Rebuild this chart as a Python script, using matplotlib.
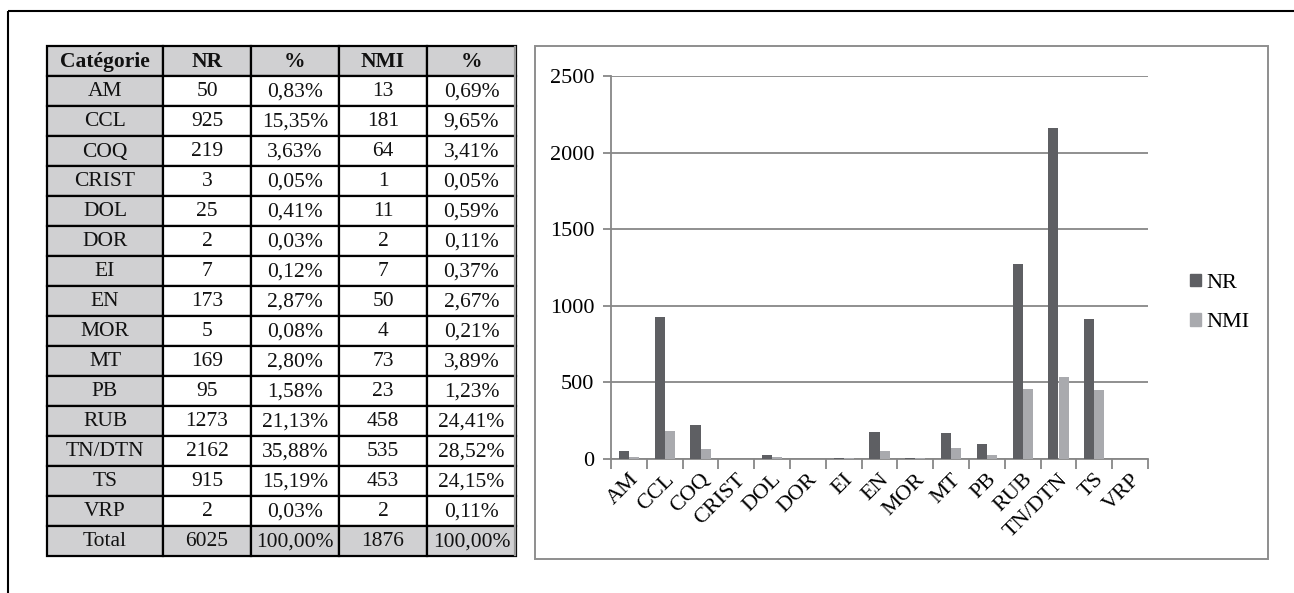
import numpy as np
import matplotlib
matplotlib.use('Agg')
import matplotlib.pyplot as plt
from matplotlib.patches import Rectangle, Patch

categories = ['AM', 'CCL', 'COQ', 'CRIST', 'DOL', 'DOR', 'EI', 'EN', 'MOR',
              'MT', 'PB', 'RUB', 'TN/DTN', 'TS', 'VRP']
nr = [50, 925, 219, 3, 25, 2, 7, 173, 5, 169, 95, 1273, 2162, 915, 2]
nr_pct = ['0,83%', '15,35%', '3,63%', '0,05%', '0,41%', '0,03%', '0,12%', '2,87%',
          '0,08%', '2,80%', '1,58%', '21,13%', '35,88%', '15,19%', '0,03%']
nmi = [13, 181, 64, 1, 11, 2, 7, 50, 4, 73, 23, 458, 535, 453, 2]
nmi_pct = ['0,69%', '9,65%', '3,41%', '0,05%', '0,59%', '0,11%', '0,37%', '2,67%',
           '0,21%', '3,89%', '1,23%', '24,41%', '28,52%', '24,15%', '0,11%']
header = ['Catégorie', 'NR', '%', 'NMI', '%']
total_row = ['Total', '6025', '100,00%', '1876', '100,00%']

W, H = 1294, 593
DPI = 100
plt.rcParams['font.family'] = ['Liberation Serif', 'DejaVu Serif']

fig = plt.figure(figsize=(W / DPI, H / DPI), dpi=DPI)

# background axes in pixel coordinates for the frame and the table
bg = fig.add_axes([0, 0, 1, 1])
bg.set_xlim(0, W)
bg.set_ylim(H, 0)
bg.axis('off')

# outer frame (top and left only visible)
bg.plot([8, W], [11, 11], color='black', lw=1.5, solid_capstyle='butt')
bg.plot([8, 8], [11, H], color='black', lw=1.5, solid_capstyle='butt')

# chart box
bg.add_patch(Rectangle((535, 46), 1268 - 535, 559 - 46, fill=False,
                       edgecolor='#8e8e8e', lw=1.4))

# table
col_x = [47, 163, 251, 339, 427, 516]
row_h = 30
top = 46
gray = '#d0d0d2'
rows = [header]
for i, c in enumerate(categories):
    rows.append([c, str(nr[i]), nr_pct[i], str(nmi[i]), nmi_pct[i]])
rows.append(total_row)

for r, row in enumerate(rows):
    y0 = top + r * row_h
    for c, txt in enumerate(row):
        x0, x1 = col_x[c], col_x[c + 1]
        shaded = r == 0 or r == len(rows) - 1 or c == 0
        bg.add_patch(Rectangle((x0, y0), x1 - x0, row_h,
                               facecolor=gray if shaded else 'white',
                               edgecolor='black', lw=1.6))
        bold = r == 0
        bg.text((x0 + x1) / 2, y0 + row_h / 2 + 1, txt, ha='center', va='center',
                fontsize=15.5, fontweight='bold' if bold else 'normal', color='#111111')
# grey edge on the right side of the table
bg.plot([col_x[-1] - 1, col_x[-1] - 1], [top + 1, top + row_h * len(rows) - 1],
        color='#9a9a9a', lw=1.6)

# bar chart
ax_l, ax_r, ax_t, ax_b = 611, 1148, 76, 459
ax = fig.add_axes([ax_l / W, 1 - ax_b / H, (ax_r - ax_l) / W, (ax_b - ax_t) / H])
x = np.arange(len(categories))
bw = 0.28
c_nr = '#5e5f63'
c_nmi = '#a9aaae'
ax.bar(x - bw / 2, nr, bw, color=c_nr, zorder=3)
ax.bar(x + bw / 2, nmi, bw, color=c_nmi, zorder=3)

axis_gray = '#878787'
ax.set_xlim(-0.5, len(categories) - 0.5)
ax.set_ylim(0, 2500)
ax.set_yticks(np.arange(0, 2501, 500))
ax.yaxis.grid(True, color=axis_gray, lw=1.3, zorder=0)
for s in ['top', 'right']:
    ax.spines[s].set_visible(False)
for s in ['left', 'bottom']:
    ax.spines[s].set_color(axis_gray)
    ax.spines[s].set_linewidth(1.3)
ax.tick_params(axis='y', direction='out', length=6, width=1.3, color=axis_gray,
               labelsize=16, pad=6)
ax.set_xticks(x)
ax.set_xticklabels(categories, rotation=45, ha='right', va='top',
                   rotation_mode='anchor', fontsize=16)
ax.tick_params(axis='x', length=0, pad=8)
ax.set_xticks(np.arange(-0.5, len(categories)), minor=True)
ax.tick_params(axis='x', which='minor', direction='out', length=7, width=1.3,
               color=axis_gray)
ax.set_facecolor('none')

handles = [Patch(color=c_nr, label='NR'), Patch(color=c_nmi, label='NMI')]
fig.legend(handles=handles, loc='center left',
           bbox_to_anchor=(1181 / W, 1 - 303 / H), frameon=False, fontsize=16,
           handlelength=0.5, handleheight=0.5, handletextpad=0.25,
           labelspacing=0.9, borderaxespad=0)

fig.savefig('out.png', dpi=DPI)
